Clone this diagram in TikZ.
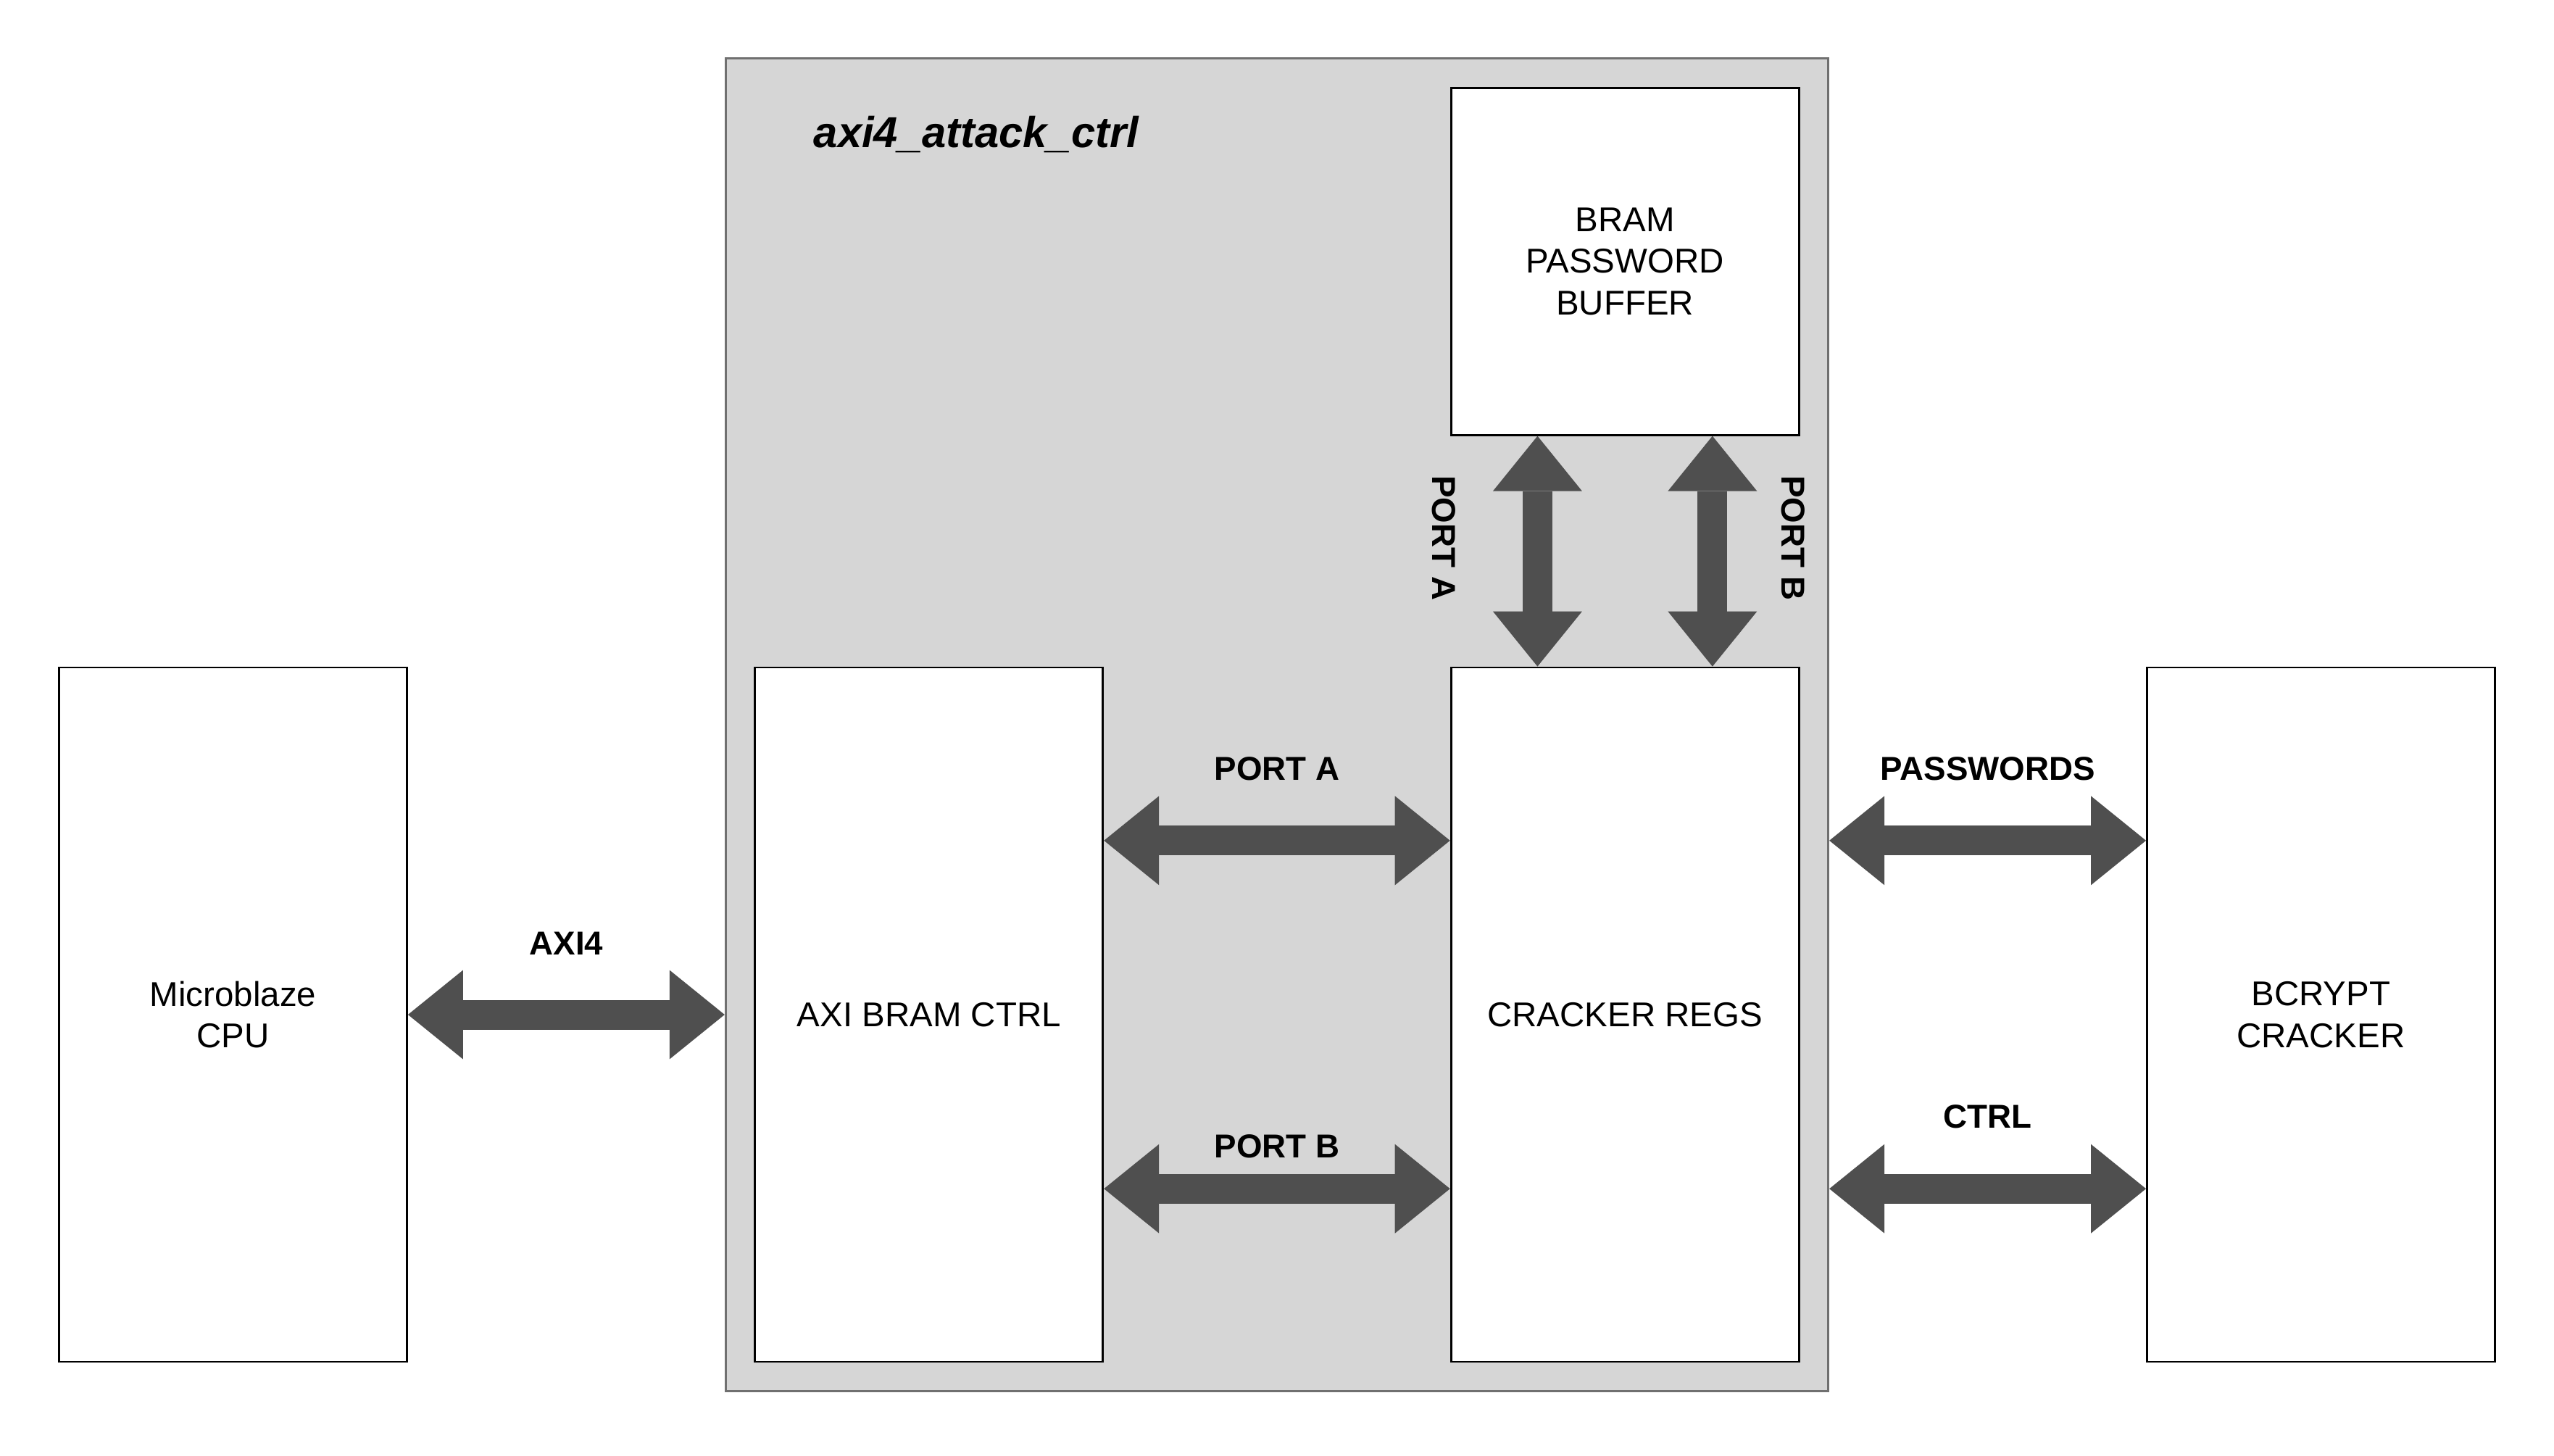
\documentclass[tikz,border=0pt]{standalone}
\usepackage{fontspec}
\setmainfont{Liberation Sans}
\usepackage{tikz}
\usetikzlibrary{arrows.meta,calc,positioning,fit,backgrounds}

\definecolor{ctrlgray}{HTML}{D6D6D6}
\definecolor{framegray}{HTML}{707070}
\definecolor{busgray}{HTML}{4F4F4F}

\begin{document}
\begin{tikzpicture}[
		block/.style  = {draw, fill=white, line width=0.8pt, rectangle, inner sep=0pt, align=center, minimum width=4.8cm, minimum height=9.58cm, font=\fontsize{13.5}{16.3}\selectfont},
		container/.style = {draw=framegray, fill=ctrlgray, line width=0.9pt, inner sep=0.39cm},
		title/.style  = {inner sep=0pt, outer sep=0pt, font=\fontsize{17}{17}\selectfont\bfseries\itshape},
		lbl/.style    = {inner sep=0pt, outer sep=0pt, font=\fontsize{13}{13}\selectfont\bfseries},
		bus/.style    = {<->, draw=busgray, line width=4.1mm},
		node distance=4.775cm,
		>={Triangle[length=7.6mm, width=12.3mm, line width=0pt]}]
		
		\useasboundingbox (0,0) rectangle (35.24,-20.08);
		
		% Bottom row of blocks, placed left to right
		\node[block] (cpu) at (3.215,-14.0) {Microblaze\\CPU};
		\node[block, right=of cpu] (bram) {AXI BRAM CTRL};
		\node[block, right=of bram] (regs) {CRACKER REGS};
		\node[block, right=of regs] (bcrypt) {BCRYPT\\CRACKER};
		
		% Buffer above the registers
		\node[block, minimum height=4.79cm, above=3.18cm of regs] (buf) {BRAM\\PASSWORD\\BUFFER};
		
		% Grey frame round the controller
		\begin{scope}[on background layer]
			\node[container, fit=(bram)(regs)(buf)] (ctrl) {};
		\end{scope}
		\node[title, anchor=base west] (ttl) at ($(ctrl.north west)+(1.23,-1.24)$) {axi4\_attack\_ctrl};
		
		% Buses between the blocks
		\draw[bus] (cpu.east) -- (cpu.east -| ctrl.west) node[lbl, midway, above=0.83cm] (laxi) {AXI4};
		
		\foreach \f/\name/\gap in {.25/PORT A/0.83cm, .75/PORT B/0.42cm}
		\draw[bus] ($(bram.north east)!\f!(bram.south east)$) -- ($(regs.north west)!\f!(regs.south west)$) node[lbl, midway, above=\gap] {\name};
		
		\foreach \f/\name/\dx in {.25/PORT A/-1.29cm, .75/PORT B/1.11cm}
		\draw[bus] ($(buf.south west)!\f!(buf.south east)$) -- ($(regs.north west)!\f!(regs.north east)$) node[lbl, midway, xshift=\dx, yshift=0.18cm, rotate=-90] {\name};
		
		\coordinate (pw) at ($(bcrypt.north west)!.25!(bcrypt.south west)$);
		\coordinate (ct) at ($(bcrypt.north west)!.75!(bcrypt.south west)$);
		\draw[bus] (ctrl.east |- pw) -- (pw) node[lbl, midway, above=0.83cm] (lpw) {PASSWORDS};
		\draw[bus] (ctrl.east |- ct) -- (ct) node[lbl, midway, above=0.83cm] (lct) {CTRL};
		
	\end{tikzpicture}
\end{document}
